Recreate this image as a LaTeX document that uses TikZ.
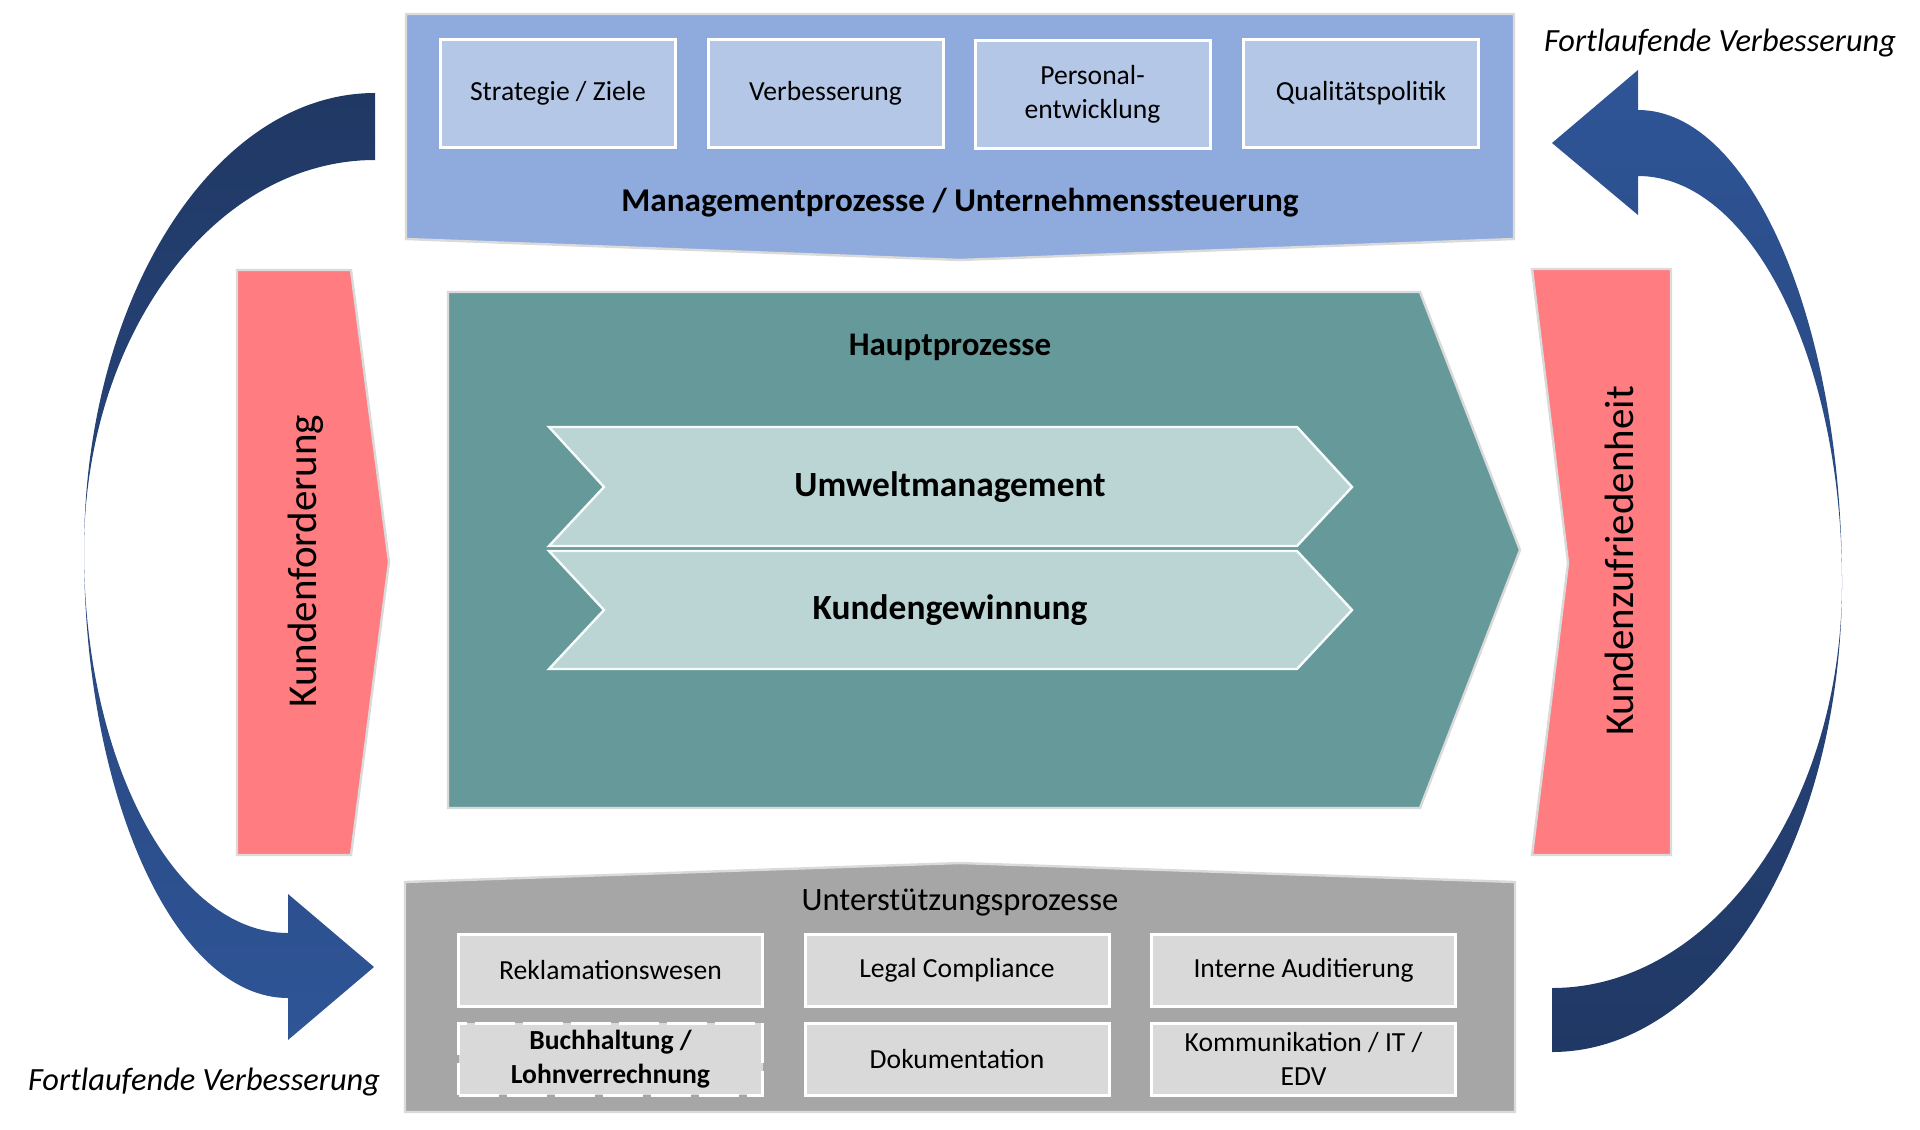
\documentclass[tikz,border=0pt]{standalone}
\usepackage{fontspec}
\setmainfont{Carlito}

\definecolor{mgmtblue}{HTML}{8FAADC}
\definecolor{mgmtlight}{HTML}{B4C7E7}
\definecolor{mainteal}{HTML}{669999}
\definecolor{chevronteal}{HTML}{BBD5D5}
\definecolor{custpink}{HTML}{FF7C80}
\definecolor{supportgrey}{HTML}{A6A6A6}
\definecolor{supportlight}{HTML}{D9D9D9}
\definecolor{arrowdark}{HTML}{203864}
\definecolor{arrowblue}{HTML}{2F5597}
\definecolor{edgegrey}{HTML}{DADADA}

\newcommand{\boxfont}{\fontsize{13.8}{17}\selectfont}

\tikzset{shapeedge/.style={draw=edgegrey,line width=1.2pt,line join=miter}}

\begin{document}
\begin{tikzpicture}[x=0.5pt,y=-0.5pt]
\useasboundingbox (0,0) rectangle (1920,1129);

% areas
\path[shapeedge,fill=mgmtblue] (406,14) -- (1514,14) -- (1514,239) -- (960,260) -- (406,239) -- cycle;
\path[shapeedge,fill=supportgrey] (405,882) -- (960,863) -- (1515,882) -- (1515,1112) -- (405,1112) -- cycle;
\path[shapeedge,fill=mainteal] (448,292) -- (1420,292) -- (1520,550) -- (1420,808) -- (448,808) -- cycle;
\path[shapeedge,fill=custpink] (237,270) -- (351,270) -- (389,562) -- (351,855) -- (237,855) -- cycle;
\path[shapeedge,fill=custpink] (1532,269) -- (1671,269) -- (1671,855) -- (1532,855) -- (1568,563) -- cycle;

\begin{scope}[every path/.style={draw=white!90!chevronteal,line width=1.2pt,fill=chevronteal}]
    \path (549,427) -- (1297,427) -- (1352,487) -- (1297,546) -- (549,546) -- (604,487) -- cycle;
    \path (549,551) -- (1297,551) -- (1352,610) -- (1297,669) -- (549,669) -- (604,610) -- cycle;
\end{scope}

% loops
\path[top color=arrowdark,bottom color=arrowblue]
    (375,93) arc[start angle=90,end angle=180,x radius=145.5pt,y radius=229pt]
    arc[start angle=180,end angle=270,x radius=102pt,y radius=223.5pt]
    -- (288,1040) -- (374,967) -- (288,894) -- (288,933)
    arc[start angle=270,end angle=180,x radius=102pt,y radius=191pt]
    arc[start angle=180,end angle=90,x radius=145.5pt,y radius=195.5pt]
    -- cycle;
\path[top color=arrowblue,bottom color=arrowdark]
    (1552,1052) arc[start angle=-90,end angle=0,x radius=145pt,y radius=234.5pt]
    arc[start angle=0,end angle=90,x radius=102pt,y radius=236.5pt]
    -- (1638,70) -- (1552,143) -- (1638,215) -- (1638,176)
    arc[start angle=90,end angle=0,x radius=102pt,y radius=203.5pt]
    arc[start angle=0,end angle=-90,x radius=145pt,y radius=202.5pt]
    -- cycle;

\begin{scope}[every node/.style={rectangle,draw=white,line width=1.5pt,fill=mgmtlight,
              minimum width=117.5pt,minimum height=54pt,inner sep=0pt,align=center,font=\boxfont}]
    \node (strategy) at (558,93.5) {Strategie / Ziele};
    \node (improve) at (825.5,93.5) {Verbesserung};
    \node (staff) at (1092.5,94.5) {Personal-\\entwicklung};
    \node (policy) at (1361,93.5) {Qualitätspolitik};
\end{scope}

\begin{scope}[every node/.style={rectangle,draw=white,line width=1.5pt,fill=supportlight,
              minimum width=152pt,minimum height=36pt,inner sep=0pt,align=center,font=\boxfont}]
    \node (complaints) at (610.5,970.5) {Reklamationswesen};
    \node (compliance) at (957,970.5) {Legal Compliance};
    \node (audit) at (1303.5,970.5) {Interne Auditierung};
    \node[dash pattern=on 20pt off 4pt,font=\boxfont\bfseries] (accounting) at (610.5,1059) {Buchhaltung /\\Lohnverrechnung};
    \node (docs) at (957,1059) {Dokumentation};
    \node (comms) at (1303.5,1059) {Kommunikation / IT /\\EDV};
\end{scope}

\begin{scope}[every node/.style={inner sep=0pt,align=center}]
    \node[font=\fontsize{16.6}{19}\selectfont\bfseries] (mgmttitle) at (960,203) {Managementprozesse / Unternehmenssteuerung};
    \node[font=\fontsize{16.5}{19}\selectfont\bfseries] (maintitle) at (950,347) {Hauptprozesse};
    \node[font=\fontsize{17.7}{20}\selectfont\bfseries] (environment) at (950,487) {Umweltmanagement};
    \node[font=\fontsize{17.7}{20}\selectfont\bfseries] (acquisition) at (950,610) {Kundengewinnung};
    \node[font=\fontsize{16.3}{19}\selectfont] (supporttitle) at (960,903) {Unterstützungsprozesse};
    \node[font=\fontsize{20.5}{24}\selectfont,rotate=90] (demand) at (306,561) {Kundenforderung};
    \node[font=\fontsize{20.5}{24}\selectfont,rotate=90] (satisfaction) at (1619,561) {Kundenzufriedenheit};
    \node[font=\fontsize{16.2}{19}\selectfont\itshape] (looptop) at (1720,43) {Fortlaufende Verbesserung};
    \node[font=\fontsize{16.2}{19}\selectfont\itshape] (loopbottom) at (204,1082) {Fortlaufende Verbesserung};
\end{scope}
\end{tikzpicture}
\end{document}
